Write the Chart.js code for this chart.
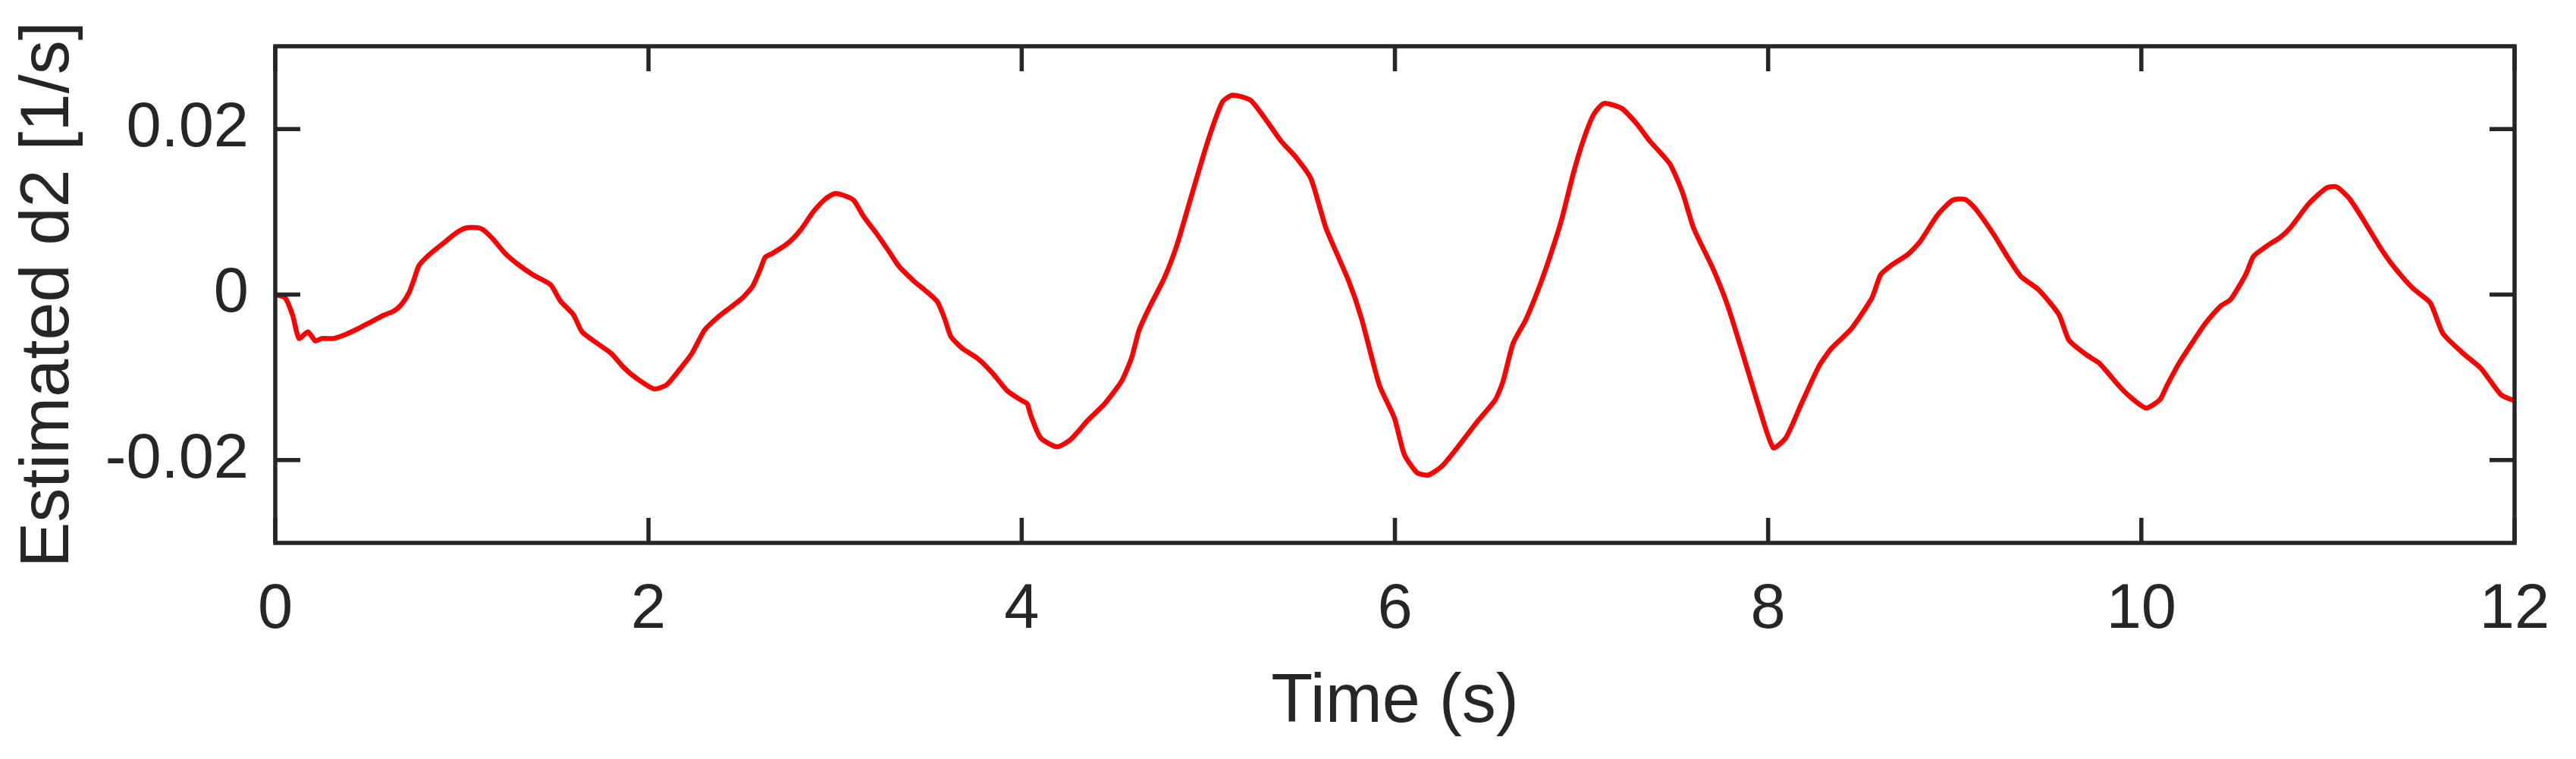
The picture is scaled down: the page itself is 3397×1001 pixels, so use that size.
<!DOCTYPE html>
<html>
<head>
<meta charset="utf-8">
<script src="https://cdn.jsdelivr.net/npm/chart.js@4.4.1/dist/chart.umd.min.js"></script>
<style>
html,body{margin:0;padding:0;background:#fff;}
canvas{display:block;}
</style>
</head>
<body>
<canvas id="c" width="3397" height="1001"></canvas>
<script>
// Time samples (s)
const timeS = [0,0.053,0.093,0.127,0.175,0.215,0.249,0.31,0.378,0.445,0.513,0.581,0.635,0.676,0.716,0.743,0.77,0.824,0.906,0.96,
1.014,1.062,1.109,1.163,1.231,1.298,1.38,1.475,1.529,1.597,1.644,1.732,1.8,1.867,1.935,2.03,2.097,2.165,2.233,2.3,
2.368,2.436,2.504,2.558,2.598,2.625,2.666,2.747,2.815,2.883,2.95,2.998,3.045,3.099,3.154,3.221,3.289,3.343,3.424,3.478,
3.546,3.587,3.621,3.682,3.763,3.844,3.926,4.0,4.03,4.047,4.101,4.189,4.263,4.358,4.44,4.534,4.588,4.629,4.683,4.764,
4.832,4.9,4.968,5.022,5.076,5.13,5.225,5.306,5.388,5.469,5.55,5.631,5.753,5.821,5.916,5.997,6.05,6.118,6.179,6.253,
6.348,6.443,6.538,6.579,6.633,6.7,6.768,6.822,6.89,6.958,7.012,7.066,7.12,7.215,7.297,7.364,7.473,7.54,7.601,7.703,
7.784,7.866,7.947,8.027,8.095,8.176,8.271,8.339,8.447,8.556,8.603,8.664,8.746,8.814,8.907,8.988,9.056,9.11,9.205,9.287,
9.354,9.449,9.558,9.612,9.707,9.775,9.883,9.937,10.024,10.099,10.139,10.207,10.288,10.342,10.424,10.478,10.559,10.6,10.668,10.749,
10.803,10.898,10.993,11.047,11.115,11.196,11.277,11.345,11.453,11.548,11.616,11.724,11.819,11.927,11.995];
// Estimated d2 values (1/s)
const d2Values = [0,-0.0004,-0.0025,-0.0053,-0.0045,-0.0056,-0.0053,-0.0053,-0.0048,-0.0041,-0.0033,-0.0025,-0.002,-0.0012,0.0002,0.0018,0.0035,0.0048,0.0063,0.0073,
0.008,0.0081,0.0079,0.0068,0.005,0.0037,0.0024,0.0012,-0.0008,-0.0024,-0.0045,-0.006,-0.0071,-0.0088,-0.0101,-0.0114,-0.0109,-0.0091,-0.0071,-0.0043,
-0.0028,-0.0016,-0.0004,0.001,0.003,0.0045,0.005,0.0062,0.0078,0.01,0.0116,0.0122,0.012,0.0114,0.0094,0.0074,0.0052,0.0034,0.0016,0.0006,
-0.0008,-0.0029,-0.0051,-0.0065,-0.0077,-0.0095,-0.0117,-0.0128,-0.0132,-0.0145,-0.0173,-0.0184,-0.0175,-0.0151,-0.0133,-0.0105,-0.0077,-0.0043,-0.0016,0.002,
0.006,0.0112,0.0164,0.0202,0.0233,0.0241,0.0235,0.0212,0.0186,0.0166,0.014,0.008,0.0016,-0.0029,-0.0109,-0.0149,-0.0193,-0.0215,-0.0218,-0.0207,
-0.0181,-0.0153,-0.0127,-0.0105,-0.0059,-0.0031,0.0006,0.004,0.0088,0.0148,0.0188,0.0218,0.0231,0.0225,0.0206,0.0186,0.0158,0.0124,0.008,0.0032,
-0.0014,-0.0073,-0.0133,-0.0185,-0.0173,-0.0133,-0.0087,-0.0065,-0.0041,-0.0004,0.0024,0.0036,0.0048,0.0064,0.0096,0.0114,0.0115,0.0104,0.0074,0.0044,
0.0022,0.0006,-0.0024,-0.0055,-0.0073,-0.0083,-0.0111,-0.0123,-0.0137,-0.0127,-0.0109,-0.0081,-0.0053,-0.0035,-0.0014,-0.0006,0.0024,0.0046,0.0058,0.007,
0.0082,0.011,0.0129,0.013,0.0116,0.0088,0.0058,0.0036,0.0008,-0.001,-0.0047,-0.0071,-0.0089,-0.0121,-0.0128];
const xTicks = [0,2,4,6,8,10,12];
const yTicks = [-0.02,0,0.02];
const xTitle = 'Time (s)';
const yTitle = 'Estimated d2 [1/s]';

const AX = '#262626';
const FONT = 'Liberation Sans, Arial, sans-serif';
const points = timeS.map((t,i)=>({x:t,y:d2Values[i]}));

const boxTicks = {
  id:'boxTicks',
  afterDatasetsDraw(chart){
    const {ctx, chartArea:a, scales:{x,y}} = chart;
    const L = 33;
    ctx.save();
    ctx.strokeStyle = AX;
    ctx.lineWidth = 5.5;
    ctx.lineCap = 'butt';
    ctx.beginPath();
    xTicks.forEach(v=>{
      const px = x.getPixelForValue(v);
      ctx.moveTo(px,a.bottom); ctx.lineTo(px,a.bottom-L);
      ctx.moveTo(px,a.top); ctx.lineTo(px,a.top+L);
    });
    yTicks.forEach(v=>{
      const py = y.getPixelForValue(v);
      ctx.moveTo(a.left,py); ctx.lineTo(a.left+L,py);
      ctx.moveTo(a.right,py); ctx.lineTo(a.right-L,py);
    });
    ctx.stroke();
    ctx.lineJoin='miter';
    ctx.strokeRect(a.left,a.top,a.right-a.left,a.bottom-a.top);
    ctx.restore();
  }
};

new Chart(document.getElementById('c'),{
  type:'line',
  data:{datasets:[{data:points,borderColor:'#ff0000',borderWidth:6.5,pointRadius:0,tension:0.2,fill:false}]},
  options:{
    responsive:false,
    devicePixelRatio:1,
    animation:false,
    events:[],
    layout:{padding:{left:0,top:61,right:81,bottom:0}},
    plugins:{legend:{display:false},tooltip:{enabled:false}},
    scales:{
      x:{
        type:'linear',min:0,max:12,
        afterBuildTicks(s){s.ticks = xTicks.map(v=>({value:v}));},
        afterFit(s){s.height = 285; s.paddingLeft=0; s.paddingRight=0;},
        grid:{display:false,drawTicks:false},
        border:{display:false},
        ticks:{padding:39,color:AX,font:{family:FONT,size:83},maxRotation:0,autoSkip:false,
          callback:v=>String(v)},
        title:{display:true,text:xTitle,color:AX,font:{family:FONT,size:90,lineHeight:1},padding:{top:0,bottom:29}}
      },
      y:{
        type:'linear',min:-0.03,max:0.03,
        afterBuildTicks(s){s.ticks = yTicks.map(v=>({value:v}));},
        afterFit(s){s.width = 363; s.paddingTop=0; s.paddingBottom=0;},
        grid:{display:false,drawTicks:false},
        border:{display:false},
        ticks:{padding:35,color:AX,font:{family:FONT,size:83},autoSkip:false,
          callback:v=>v===0?'0':String(v)},
        title:{display:true,text:yTitle,color:AX,font:{family:FONT,size:90,lineHeight:1},padding:{top:20,bottom:0}}
      }
    }
  },
  plugins:[boxTicks]
});
</script>
</body>
</html>
